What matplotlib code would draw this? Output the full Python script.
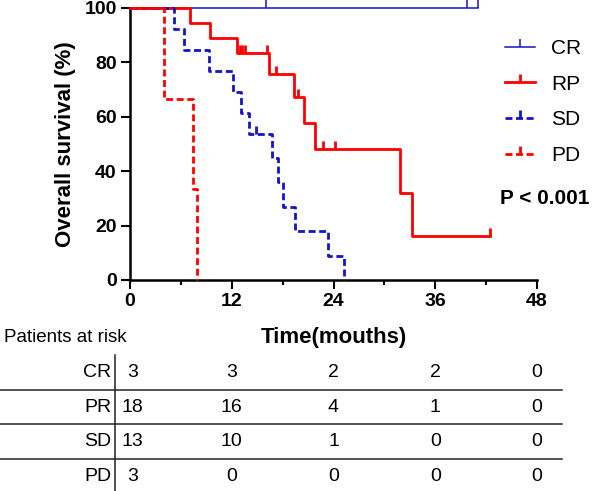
import numpy as np
import matplotlib
matplotlib.use("Agg")
import matplotlib.pyplot as plt
from matplotlib.lines import Line2D
from matplotlib.transforms import blended_transform_factory

plt.rcParams['font.family'] = ['Liberation Sans', 'DejaVu Sans']

# survival curves (time in months, survival in %)
cr_time = [0, 41.1]
cr_surv = [100, 100]
cr_cens = [16.0, 39.7, 41.1]

pr_time = [0, 7.1, 9.45, 12.65, 16.45, 19.3, 20.5, 21.8, 31.8, 33.3, 42.4]
pr_surv = [100, 94.4, 88.9, 83.3, 75.8, 67.3, 57.7, 48.1, 32.1, 16.0, 16.0]
pr_cens = [12.95, 13.25, 13.6, 16.2, 17.2, 19.8, 22.8, 24.2, 42.4]

sd_time = [0, 5.23, 6.41, 9.36, 12.2, 13.07, 14.05, 16.7, 17.5, 18.1, 19.5, 23.4, 25.2]
sd_surv = [100, 92.3, 84.6, 76.9, 69.2, 61.5, 53.8, 44.9, 35.9, 26.9, 17.9, 9.0, 0]
sd_cens = [14.84]

pd_time = [0, 4.05, 7.47, 7.87]
pd_surv = [100, 66.7, 33.3, 0]
pd_cens = []

# patients at risk table
risk_times = [0, 12, 24, 36, 48]
risk_rows = ['CR', 'PR', 'SD', 'PD']
risk_counts = [[3, 3, 2, 2, 0],
               [18, 16, 4, 1, 0],
               [13, 10, 1, 0, 0],
               [3, 0, 0, 0, 0]]

legend_labels = ['CR', 'RP', 'SD', 'PD']

blue = '#1414C8'
red = '#FF0000'
dash = (0, (2.5, 1.3))

W, H = 597, 491
fig = plt.figure(figsize=(W / 100, H / 100), dpi=100)
ax = fig.add_axes([130 / W, 1 - 280 / H, 407 / W, 272 / H])

curves = [
    (cr_time, cr_surv, cr_cens, blue, '-', 1.1),
    (pr_time, pr_surv, pr_cens, red, '-', 2.0),
    (sd_time, sd_surv, sd_cens, blue, dash, 2.0),
    (pd_time, pd_surv, pd_cens, red, dash, 2.0),
]

handles = []
for (t, s, c, col, ls, lw), lab in zip(curves, legend_labels):
    ax.step(t, s, where='post', color=col, linestyle=ls, lw=lw, clip_on=False, zorder=3)
    if len(c):
        idx = np.searchsorted(t, c, side='right') - 1
        cy = np.array(s)[idx]
        ax.plot(c, cy, linestyle='none', marker=2, markersize=5.5,
                markeredgewidth=lw, color=col, clip_on=False, zorder=3)
    handles.append(Line2D([], [], color=col, linestyle=ls, lw=lw, marker=2,
                          markersize=6, markeredgewidth=lw))

ax.set_xlim(0, 48)
ax.set_ylim(0, 100)
ax.set_xticks(risk_times)
ax.set_xticks([6, 18, 30, 42], minor=True)
ax.set_yticks([0, 20, 40, 60, 80, 100])
for sp in ['top', 'right']:
    ax.spines[sp].set_visible(False)
for sp in ['left', 'bottom']:
    ax.spines[sp].set_linewidth(1.8)
ax.tick_params(which='major', length=6.5, width=1.5, labelsize=14, pad=3)
ax.tick_params(which='minor', length=3.5, width=1.5)
for lab in ax.get_xticklabels() + ax.get_yticklabels():
    lab.set_fontweight('bold')

ax.set_ylabel('Overall survival (%)', fontsize=16, fontweight='bold', labelpad=6)
ax.set_xlabel('Time(mouths)', fontsize=16, fontweight='bold', labelpad=12)

fig.legend(handles, legend_labels, loc='upper left', bbox_to_anchor=(505 / W, 1 - 39 / H),
           frameon=False, fontsize=15, handlelength=1.45, handletextpad=0.75,
           labelspacing=0.8, borderpad=0, borderaxespad=0)
fig.text(500 / W, 1 - 198 / H, 'P < 0.001', fontsize=15, fontweight='bold', va='center')

fig.text(4 / W, 1 - 338 / H, 'Patients at risk', fontsize=13.5, va='center')

# risk table
ax_t = fig.add_axes([130 / W, 0, 407 / W, 136 / H])
ax_t.set_xlim(0, 48)
ax_t.set_ylim(136 / 34.7, 0)
ax_t.axis('off')
tr = blended_transform_factory(fig.transFigure, ax_t.transData)
for i, (name, row) in enumerate(zip(risk_rows, risk_counts)):
    ax_t.text(111 / W, i + 0.5, name, transform=tr, ha='right', va='center', fontsize=14)
    for j, (x, n) in enumerate(zip(risk_times, row)):
        xx = x + 0.3 if j == 0 else x
        ax_t.text(xx, i + 0.5, str(n), ha='center', va='center', fontsize=14)
for k in range(1, len(risk_rows)):
    ax_t.plot([0, 562 / W], [k, k], transform=tr, color='#222222', lw=1.1, clip_on=False)
ax_t.plot([115 / W, 115 / W], [0, 136 / 34.7], transform=tr, color='#222222', lw=1.1, clip_on=False)

fig.savefig('out.png', dpi=100)
